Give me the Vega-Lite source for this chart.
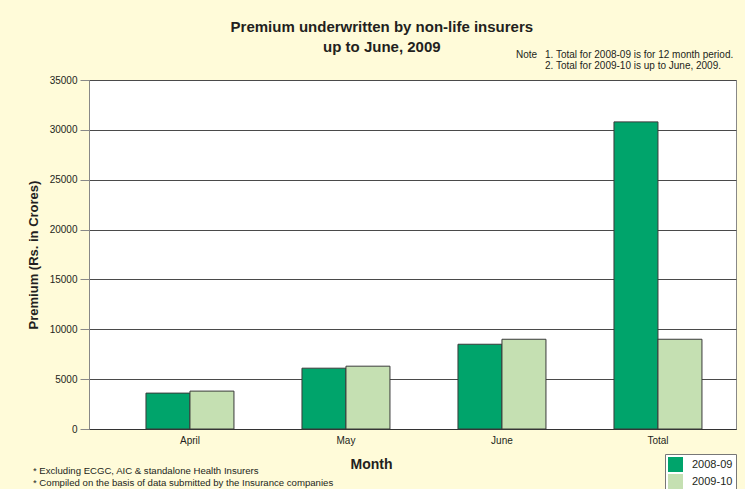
{
  "$schema": "https://vega.github.io/schema/vega-lite/v6.json",
  "width": 647,
  "height": 349,
  "autosize": {"type": "none"},
  "padding": {"left": 89, "top": 80, "right": 9, "bottom": 60},
  "background": "#FFFBD9",
  "title": {
    "text": ["Premium underwritten by non-life insurers", "up to June, 2009"],
    "anchor": "middle",
    "frame": "bounds",
    "font": "Liberation Sans",
    "fontSize": 15,
    "fontWeight": "bold",
    "color": "#231f20",
    "lineHeight": 20,
    "offset": -5
  },
  "config": {
    "font": "Liberation Sans",
    "view": {"fill": "white", "stroke": "#888888", "strokeWidth": 1}
  },
  "layer": [
    {
      "data": {
        "values": [
          {"month": "April", "year": "2008-09", "premium": 3600},
          {"month": "April", "year": "2009-10", "premium": 3800},
          {"month": "May", "year": "2008-09", "premium": 6100},
          {"month": "May", "year": "2009-10", "premium": 6300},
          {"month": "June", "year": "2008-09", "premium": 8500},
          {"month": "June", "year": "2009-10", "premium": 9000},
          {"month": "Total", "year": "2008-09", "premium": 30800},
          {"month": "Total", "year": "2009-10", "premium": 9000}
        ]
      },
      "mark": {"type": "bar", "stroke": "#3a3a3a", "strokeWidth": 1},
      "encoding": {
        "x": {
          "field": "month",
          "type": "nominal",
          "scale": {
            "domain": ["April", "May", "June", "Total"],
            "paddingInner": 0.436,
            "paddingOuter": 0.2917,
            "align": 0.626,
            "round": false
          },
          "axis": {
            "title": "Month",
            "labelAngle": 0,
            "labelFontSize": 10,
            "labelColor": "#231f20",
            "labelPadding": 6,
            "ticks": false,
            "domainColor": "#333333",
            "domainWidth": 1,
            "titleFontSize": 14,
            "titleFontWeight": "bold",
            "titleColor": "#231f20",
            "titlePadding": 12,
            "titleX": 282
          }
        },
        "xOffset": {
          "field": "year",
          "type": "nominal",
          "scale": {"paddingInner": 0, "paddingOuter": 0}
        },
        "y": {
          "field": "premium",
          "type": "quantitative",
          "scale": {"domain": [0, 35000], "nice": false},
          "axis": {
            "title": "Premium (Rs. in Crores)",
            "values": [0, 5000, 10000, 15000, 20000, 25000, 30000, 35000],
            "format": "d",
            "labelFontSize": 10,
            "labelColor": "#231f20",
            "labelPadding": 3,
            "tickSize": 9,
            "tickColor": "#888888",
            "domainColor": "#888888",
            "gridColor": "#4a4a4a",
            "gridWidth": 1,
            "titleFontSize": 13,
            "titleFontWeight": "bold",
            "titleColor": "#231f20",
            "titlePadding": 9
          }
        },
        "color": {
          "field": "year",
          "type": "nominal",
          "scale": {"domain": ["2008-09", "2009-10"], "range": ["#00A46B", "#C5E0B2"]},
          "legend": {
            "title": null,
            "orient": "none",
            "legendX": 576,
            "legendY": 374,
            "fillColor": "white",
            "strokeColor": "#777777",
            "padding": 3,
            "symbolType": "square",
            "symbolSize": 225,
            "symbolStrokeWidth": 0,
            "symbolOpacity": 1,
            "labelFontSize": 11,
            "labelColor": "#231f20",
            "labelOffset": 9,
            "rowPadding": 2
          }
        }
      }
    },
    {
      "data": {"values": [{"t": "Note"}]},
      "mark": {"type": "text", "align": "left", "baseline": "middle", "fontSize": 10, "color": "#231f20", "dx": -142},
      "encoding": {"x": {"datum": "Total"}, "y": {"datum": 37507}, "text": {"field": "t"}}
    },
    {
      "data": {"values": [{"t": "1. Total  for 2008-09 is for 12 month period."}]},
      "mark": {"type": "text", "align": "left", "baseline": "middle", "fontSize": 10, "color": "#231f20", "dx": -113},
      "encoding": {"x": {"datum": "Total"}, "y": {"datum": 37507}, "text": {"field": "t"}}
    },
    {
      "data": {"values": [{"t": "2. Total for 2009-10 is up to June, 2009."}]},
      "mark": {"type": "text", "align": "left", "baseline": "middle", "fontSize": 10, "color": "#231f20", "dx": -113},
      "encoding": {"x": {"datum": "Total"}, "y": {"datum": 36404}, "text": {"field": "t"}}
    },
    {
      "data": {"values": [{"t": "* Excluding ECGC, AIC & standalone Health Insurers"}]},
      "mark": {"type": "text", "align": "left", "baseline": "middle", "fontSize": 9.6, "color": "#231f20", "dx": -157},
      "encoding": {"x": {"datum": "April"}, "y": {"datum": -4212}, "text": {"field": "t"}}
    },
    {
      "data": {"values": [{"t": "* Compiled on the basis of data submitted by the Insurance companies"}]},
      "mark": {"type": "text", "align": "left", "baseline": "middle", "fontSize": 9.6, "color": "#231f20", "dx": -157},
      "encoding": {"x": {"datum": "April"}, "y": {"datum": -5415}, "text": {"field": "t"}}
    }
  ]
}
